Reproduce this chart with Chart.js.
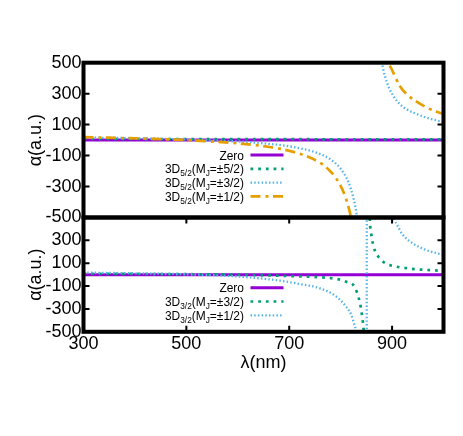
<!DOCTYPE html>
<html>
<head>
<meta charset="utf-8">
<script src="https://cdn.jsdelivr.net/npm/chart.js@4.4.0/dist/chart.umd.min.js"></script>
<style>
    html, body { margin: 0; padding: 0; background: #fff; }
</style>
</head>
<body>
<canvas id="grafico" width="463" height="436"></canvas>
<script>
// ==================================================
// POLARIZABILIDADE 3D5/2 e 3D3/2 - DOIS PAINÉIS
// ==================================================

// Ticks dos eixos
const xTicks = [300, 500, 700, 900];
const yTicksTopo = [-500, -300, -100, 100, 300, 500];
const yTicksBase = [-500, -300, -100, 100, 300]; // o 500 fica coberto pelo -500 de cima
const ticksInternosY = [-300, -100, 100, 300];

// Linha zero (os dois painéis)
const lamZero = [300, 1000];
const valZero = [0, 0];

// Painel de cima: 3D5/2
const lam52_52 = [300, 400, 500, 600, 700, 800, 900, 1000];
const val52_52 = [7, 7, 6, 6, 6, 5, 5, 5];

const lam52_32 = [300, 400, 500, 600, 650, 700, 750, 780, 800, 815, 825, 831, 838, 855,
                  870, 876, 882, 890, 902, 915, 930, 947, 970, 992, 1000];
const val52_32 = [16, 12, 4, -9, -21, -40, -78, -124, -185, -270, -376, -480, -700, null,
                  790, 585, 470, 372, 288, 232, 196, 170, 142, 123, 117];

const lam52_12 = [300, 400, 500, 600, 650, 700, 750, 780, 800, 810, 818, 824, 830, 855,
                  880, 886, 893, 900, 915, 930, 947, 970, 992, 1000];
const val52_12 = [19, 11, 0, -21, -39, -69, -128, -201, -295, -374, -468, -570, -730, null,
                  767, 632, 505, 453, 350, 292, 250, 206, 177, 170];

// Painel de baixo: 3D3/2
const lam32_32 = [300, 400, 500, 600, 688, 760, 792, 811, 827, 837, 842, 845, 848, 850,
                  853, 856.5, 860, 863, 866, 876, 889, 900, 934, 960, 992, 1000];
const val32_32 = [8, 6, 4, 0, -11, -23, -38, -62, -106, -238, -370, -500, -800, null,
                  1100, 500, 340, 266, 217, 141, 95, 78, 53, 43, 35, 33];

const lam32_12 = [300, 400, 500, 600, 682, 721, 760, 792, 811, 821, 827, 831, 838, 845, 850.5,
                  851, 860, 896, 900, 905, 908, 921, 940, 966, 995, 1000];
const val32_12 = [18, 12, 3, -16, -53, -82, -120, -193, -282, -355, -443, -500, -640, -900, -2000,
                  2000, null, 650, 560, 480, 451, 348, 275, 216, 178, 172];

// Textos da legenda: [texto, subscrito?]
const legendaTopo = [
    [['Zero', 0]],
    [['3D', 0], ['5/2', 1], ['(M', 0], ['J', 1], ['=±5/2)', 0]],
    [['3D', 0], ['5/2', 1], ['(M', 0], ['J', 1], ['=±3/2)', 0]],
    [['3D', 0], ['5/2', 1], ['(M', 0], ['J', 1], ['=±1/2)', 0]]
];
const legendaBase = [
    [['Zero', 0]],
    [['3D', 0], ['3/2', 1], ['(M', 0], ['J', 1], ['=±3/2)', 0]],
    [['3D', 0], ['3/2', 1], ['(M', 0], ['J', 1], ['=±1/2)', 0]]
];

const FONTE = 'Liberation Sans';

const estilos = {
    zero:    { borderColor: '#9400d3', borderWidth: 3,   borderDash: [] },
    verde:   { borderColor: '#009e73', borderWidth: 2.7, borderDash: [2.7, 5] },
    azul:    { borderColor: '#56b4e9', borderWidth: 2.3, borderDash: [1.5, 2.2] },
    laranja: { borderColor: '#e69f00', borderWidth: 2.7, borderDash: [10, 5, 3, 4.5] }
};

/**
 * Junta comprimentos de onda e valores em pontos {x, y}
 */
function montarPontos(lams, vals) {
    return lams.map((x, i) => ({ x: x, y: vals[i] }));
}

function serie(lams, vals, estilo, eixo, ordem) {
    return Object.assign({
        data: montarPontos(lams, vals),
        yAxisID: eixo,
        order: ordem,
        fill: false,
        pointRadius: 0,
        borderCapStyle: 'butt',
        cubicInterpolationMode: 'monotone',
        clip: 0
    }, estilos[estilo]);
}

/**
 * Moldura grossa dos painéis + ticks para dentro
 */
const molduraPaineis = {
    id: 'molduraPaineis',
    afterDatasetsDraw(chart) {
        const ctx = chart.ctx;
        const x = chart.scales.x;
        ctx.save();
        ctx.strokeStyle = '#000';
        ['yTop', 'yBot'].forEach(id => {
            const y = chart.scales[id];
            ctx.lineWidth = 2;
            ctx.beginPath();
            ticksInternosY.forEach(v => {
                const py = y.getPixelForValue(v);
                ctx.moveTo(x.left, py); ctx.lineTo(x.left + 6, py);
                ctx.moveTo(x.right - 6, py); ctx.lineTo(x.right, py);
            });
            if (id === 'yBot') {
                xTicks.slice(1).forEach(v => {
                    const px = x.getPixelForValue(v);
                    ctx.moveTo(px, y.top); ctx.lineTo(px, y.top + 6);
                    ctx.moveTo(px, y.bottom - 6); ctx.lineTo(px, y.bottom);
                });
            }
            ctx.stroke();
            ctx.lineWidth = 4;
            ctx.strokeRect(x.left, y.top, x.right - x.left, y.bottom - y.top);
        });
        ctx.restore();
    }
};

/**
 * Legenda com subscritos, alinhada à direita, com amostra da linha
 */
function desenharLegenda(ctx, linhas, estilosLinhas, xTexto, y0, passo) {
    linhas.forEach((partes, i) => {
        const yc = y0 + i * passo;
        ctx.save();
        ctx.translate(xTexto, yc);
        ctx.scale(0.92, 1);
        // medir largura total
        let largura = 0;
        partes.forEach(([txt, sub]) => {
            ctx.font = (sub ? 9 : 13) + 'px "' + FONTE + '"';
            largura += ctx.measureText(txt).width;
        });
        let cx = -largura;
        ctx.fillStyle = '#000';
        ctx.textBaseline = 'alphabetic';
        partes.forEach(([txt, sub]) => {
            ctx.font = (sub ? 9 : 13) + 'px "' + FONTE + '"';
            ctx.fillText(txt, cx, sub ? 7.5 : 4.6);
            cx += ctx.measureText(txt).width;
        });
        ctx.restore();

        const est = estilos[estilosLinhas[i]];
        ctx.save();
        ctx.strokeStyle = est.borderColor;
        ctx.lineWidth = est.borderWidth;
        ctx.setLineDash(est.borderDash);
        ctx.beginPath();
        ctx.moveTo(xTexto + 6.5, yc);
        ctx.lineTo(xTexto + 39.5, yc);
        ctx.stroke();
        ctx.restore();
    });
}

const legendaPaineis = {
    id: 'legendaPaineis',
    afterDraw(chart) {
        const ctx = chart.ctx;
        const x = chart.scales.x;
        const xTexto = x.left + 160.5;
        desenharLegenda(ctx, legendaTopo, ['zero', 'verde', 'azul', 'laranja'],
            xTexto, chart.scales.yTop.top + 92.3, 13.8);
        desenharLegenda(ctx, legendaBase, ['zero', 'verde', 'azul'],
            xTexto, chart.scales.yBot.top + 70.2, 13.8);
    }
};

function eixoY(ticks, peso) {
    return {
        type: 'linear',
        position: 'left',
        stack: 'paineis',
        stackWeight: peso,
        min: -500,
        max: 500,
        afterBuildTicks: s => { s.ticks = ticks.map(v => ({ value: v })); },
        afterFit: s => { s.width = 58.3; },
        grid: { display: false, drawTicks: false },
        border: { display: false },
        ticks: {
            color: '#000',
            padding: 2,
            autoSkip: false,
            font: { family: FONTE, size: 18 },
            callback: v => String(v)
        },
        title: {
            display: true,
            text: 'α(a.u.)',
            color: '#000',
            padding: 0,
            font: { family: FONTE, size: 18 }
        }
    };
}

const ctx = document.getElementById('grafico').getContext('2d');

new Chart(ctx, {
    type: 'line',
    data: {
        datasets: [
            serie(lamZero, valZero, 'zero', 'yTop', 4),
            serie(lam52_52, val52_52, 'verde', 'yTop', 3),
            serie(lam52_32, val52_32, 'azul', 'yTop', 2),
            serie(lam52_12, val52_12, 'laranja', 'yTop', 1),
            serie(lamZero, valZero, 'zero', 'yBot', 4),
            serie(lam32_32, val32_32, 'verde', 'yBot', 3),
            serie(lam32_12, val32_12, 'azul', 'yBot', 2)
        ]
    },
    options: {
        responsive: false,
        animation: false,
        events: [],
        layout: { padding: { left: 25.2, right: 19.5, top: 62.7, bottom: 62.2 } },
        plugins: {
            legend: { display: false },
            tooltip: { enabled: false }
        },
        scales: {
            x: {
                type: 'linear',
                min: 300,
                max: 1000,
                afterBuildTicks: s => { s.ticks = xTicks.map(v => ({ value: v })); },
                afterFit: s => { s.height = 42; },
                grid: { display: false, drawTicks: false },
                border: { display: false },
                ticks: {
                    color: '#000',
                    padding: 1,
                    autoSkip: false,
                    maxRotation: 0,
                    font: { family: FONTE, size: 18 },
                    callback: v => String(v)
                },
                title: {
                    display: true,
                    text: 'λ(nm)',
                    color: '#000',
                    padding: 0,
                    font: { family: FONTE, size: 18 }
                }
            },
            yBot: eixoY(yTicksBase, 114.3),
            yTop: eixoY(yTicksTopo, 154.8)
        }
    },
    plugins: [molduraPaineis, legendaPaineis]
});
</script>
</body>
</html>
